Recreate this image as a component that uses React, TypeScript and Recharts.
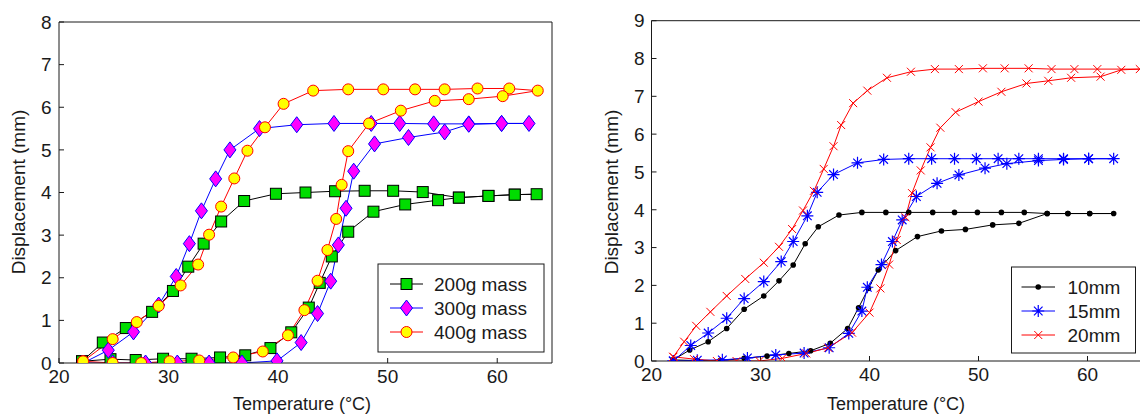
import React from 'react';
import { LineChart, Line, XAxis, YAxis } from 'recharts';

const FONT = "'Liberation Sans', Arial, Helvetica, sans-serif";
const INK = '#1a1a1a';

const tempTicks = [20, 30, 40, 50, 60];
const massTicks = [0, 1, 2, 3, 4, 5, 6, 7, 8];
const lengthTicks = [0, 1, 2, 3, 4, 5, 6, 7, 8, 9];

const massLabels = ['200g mass', '300g mass', '400g mass'];
const lengthLabels = ['10mm', '15mm', '20mm'];

// left panel: displacement vs temperature for three bias masses
// each loop is read as "out" (upper-left branch) and "back" (lower-right branch)
const m200OutT = [22.1, 24.0, 26.1, 28.5, 30.4, 31.8, 33.2, 34.8, 36.9, 39.8, 42.5, 45.2, 47.9, 50.5, 53.2, 56.5, 59.2, 61.6, 63.6];
const m200OutD = [0.04, 0.48, 0.82, 1.2, 1.69, 2.26, 2.8, 3.32, 3.8, 3.97, 4.0, 4.03, 4.04, 4.04, 4.01, 3.88, 3.92, 3.95, 3.96];
const m200BackT = [61.6, 59.2, 56.5, 54.6, 51.6, 48.7, 46.4, 44.9, 43.8, 42.8, 41.2, 39.3, 37.0, 34.7, 32.1, 29.5, 27.0, 24.7, 22.1];
const m200BackD = [3.95, 3.92, 3.88, 3.82, 3.72, 3.55, 3.08, 2.5, 1.88, 1.3, 0.72, 0.35, 0.18, 0.13, 0.1, 0.1, 0.07, 0.09, 0.04];

const m300OutT = [22.2, 24.5, 26.8, 29.1, 30.7, 31.9, 33.0, 34.3, 35.6, 38.3, 41.7, 45.1, 48.5, 51.1, 54.2, 57.4, 60.4, 62.9];
const m300OutD = [0, 0.3, 0.73, 1.36, 2.03, 2.8, 3.57, 4.32, 5.0, 5.5, 5.59, 5.62, 5.62, 5.62, 5.61, 5.61, 5.62, 5.62];
const m300BackT = [60.4, 57.4, 55.2, 51.9, 48.8, 46.9, 46.2, 45.5, 44.8, 43.6, 42.1, 39.9, 36.7, 33.7, 30.8, 27.9, 24.9, 22.2];
const m300BackD = [5.62, 5.6, 5.42, 5.29, 5.14, 4.5, 3.63, 2.77, 1.92, 1.16, 0.48, 0.05, 0, 0, 0, 0, 0, 0];

const m400OutT = [22.2, 24.9, 27.1, 29.1, 31.1, 32.7, 33.7, 34.8, 36.0, 37.2, 38.8, 40.5, 43.2, 46.4, 49.6, 52.5, 55.2, 58.2, 61.1, 63.7];
const m400OutD = [0.04, 0.56, 0.96, 1.34, 1.82, 2.31, 3.01, 3.67, 4.33, 4.98, 5.53, 6.08, 6.39, 6.42, 6.42, 6.42, 6.42, 6.44, 6.44, 6.39];
const m400BackT = [60.5, 57.4, 54.3, 51.2, 48.3, 46.4, 45.8, 45.3, 44.5, 43.6, 42.4, 40.9, 38.6, 35.9, 32.8, 30.1, 27.5, 24.9, 22.2];
const m400BackD = [6.26, 6.19, 6.15, 5.92, 5.62, 4.97, 4.18, 3.38, 2.65, 1.93, 1.24, 0.65, 0.27, 0.13, 0.06, 0.04, 0, 0, 0.04];

// right panel: three wire lengths
const l10OutT = [22.0, 23.5, 25.2, 26.9, 28.5, 30.3, 31.7, 33.0, 34.1, 35.3, 37.2, 39.3, 41.5, 43.6, 45.8, 47.8, 49.9, 52.1, 54.2, 56.3, 58.2, 60.2, 62.4];
const l10OutD = [0.03, 0.29, 0.51, 0.86, 1.37, 1.72, 2.12, 2.54, 3.1, 3.55, 3.86, 3.93, 3.93, 3.93, 3.93, 3.93, 3.93, 3.93, 3.93, 3.9, 3.9, 3.9, 3.9];
const l10BackT = [60.2, 58.2, 56.3, 53.7, 51.3, 48.8, 46.6, 44.4, 42.4, 40.8, 39.9, 39.0, 38.0, 36.4, 34.6, 32.6, 30.6, 28.5, 26.3, 24.2, 22.0];
const l10BackD = [3.9, 3.9, 3.9, 3.64, 3.6, 3.48, 3.44, 3.29, 2.92, 2.41, 1.92, 1.41, 0.86, 0.47, 0.27, 0.2, 0.13, 0.07, 0.01, 0.01, 0.03];

const l15OutT = [22.0, 23.6, 25.2, 26.9, 28.5, 30.3, 31.9, 33.0, 34.3, 35.2, 36.7, 38.9, 41.3, 43.6, 45.7, 47.8, 49.8, 51.8, 53.7, 55.5, 57.8, 60.1, 62.4];
const l15OutD = [0, 0.41, 0.74, 1.13, 1.65, 2.1, 2.63, 3.16, 3.84, 4.46, 4.93, 5.24, 5.33, 5.35, 5.35, 5.35, 5.35, 5.35, 5.35, 5.35, 5.35, 5.35, 5.35];
const l15BackT = [60.1, 57.8, 55.5, 52.6, 50.6, 48.2, 46.2, 44.3, 43.0, 42.1, 41.1, 39.8, 39.3, 38.1, 36.3, 34.0, 31.4, 28.8, 26.5, 24.2, 22.0];
const l15BackD = [5.35, 5.33, 5.3, 5.22, 5.1, 4.92, 4.7, 4.35, 3.73, 3.16, 2.55, 1.95, 1.32, 0.73, 0.35, 0.21, 0.16, 0.08, 0.03, 0.02, 0];

const l20OutT = [22.0, 23.0, 24.1, 25.4, 26.9, 28.6, 30.3, 31.7, 32.9, 33.9, 34.9, 35.8, 36.7, 37.4, 38.5, 39.8, 41.6, 43.8, 46.0, 48.2, 50.4, 52.4, 54.6, 56.7, 58.8, 60.9, 64.8];
const l20OutD = [0.11, 0.51, 0.93, 1.3, 1.72, 2.17, 2.6, 3.02, 3.49, 3.98, 4.5, 5.08, 5.68, 6.24, 6.82, 7.15, 7.49, 7.65, 7.72, 7.72, 7.74, 7.74, 7.74, 7.72, 7.72, 7.72, 7.72];
const l20BackT = [63.1, 61.2, 58.5, 56.4, 54.4, 52.1, 50.0, 47.9, 46.5, 45.6, 44.7, 43.9, 43.3, 42.5, 41.8, 41.0, 40.0, 38.4, 36.2, 34.2, 32.0, 29.9, 27.8, 26.0, 23.9, 22.0];
const l20BackD = [7.7, 7.52, 7.49, 7.41, 7.34, 7.12, 6.86, 6.58, 6.17, 5.65, 5.04, 4.44, 3.8, 3.2, 2.55, 1.92, 1.28, 0.75, 0.35, 0.2, 0.07, 0, 0, 0, 0.05, 0.11];

const loop = (outT: number[], outD: number[], backT: number[], backD: number[]) => [
  ...outT.map((t, i) => ({ t, d: outD[i] })),
  ...backT.map((t, i) => ({ t, d: backD[i] })),
];

const m200 = loop(m200OutT, m200OutD, m200BackT, m200BackD);
const m300 = loop(m300OutT, m300OutD, m300BackT, m300BackD);
const m400 = loop(m400OutT, m400OutD, m400BackT, m400BackD);
const l10 = loop(l10OutT, l10OutD, l10BackT, l10BackD);
const l15 = loop(l15OutT, l15OutD, l15BackT, l15BackD);
const l20 = loop(l20OutT, l20OutD, l20BackT, l20BackD);

// matlab-ish markers
type MarkerFn = (x: number, y: number, k: string) => React.ReactElement;

const square: MarkerFn = (x, y, k) => (
  <rect key={k} x={x - 5.5} y={y - 5.5} width={11} height={11} fill="#00dd00" stroke="#000" strokeWidth={1} />
);
const diamond: MarkerFn = (x, y, k) => (
  <path key={k} d={`M${x},${y - 8}L${x + 6},${y}L${x},${y + 8}L${x - 6},${y}Z`} fill="#ff00ff" stroke="#0000ff" strokeWidth={1} />
);
const ring: MarkerFn = (x, y, k) => (
  <circle key={k} cx={x} cy={y} r={5.5} fill="#ffff00" stroke="#ff0000" strokeWidth={1} />
);
const dot: MarkerFn = (x, y, k) => <circle key={k} cx={x} cy={y} r={2.8} fill="#000" />;
const star: MarkerFn = (x, y, k) => (
  <path
    key={k}
    d={`M${x - 6},${y}H${x + 6}M${x},${y - 6}V${y + 6}M${x - 4.3},${y - 4.3}L${x + 4.3},${y + 4.3}M${x - 4.3},${y + 4.3}L${x + 4.3},${y - 4.3}`}
    stroke="#0000ff"
    strokeWidth={1.2}
    fill="none"
  />
);
const cross: MarkerFn = (x, y, k) => (
  <path key={k} d={`M${x - 4},${y - 4}L${x + 4},${y + 4}M${x - 4},${y + 4}L${x + 4},${y - 4}`} stroke="#ff0000" strokeWidth={1} fill="none" />
);

const dotRenderer = (m: MarkerFn, tag: string) => (p: any) => m(p.cx ?? 0, p.cy ?? 0, `${tag}-${p.index}`);

const axisText = { fill: INK, fontSize: 19, fontFamily: FONT };

function frame(yTicks: number[], yMax: number, yMargin: number) {
  return [
    <XAxis
      key="xb"
      xAxisId={0}
      type="number"
      dataKey="t"
      domain={[20, 65]}
      ticks={tempTicks}
      interval={0}
      allowDataOverflow
      height={1}
      tickSize={-5}
      tickMargin={12}
      tick={axisText}
      axisLine={{ stroke: INK }}
      tickLine={{ stroke: INK }}
    />,
    <XAxis
      key="xt"
      xAxisId="top"
      orientation="top"
      type="number"
      domain={[20, 65]}
      ticks={tempTicks}
      interval={0}
      allowDataOverflow
      height={1}
      tickSize={-5}
      tick={false}
      axisLine={{ stroke: INK }}
      tickLine={{ stroke: INK }}
    />,
    <YAxis
      key="yl"
      yAxisId={0}
      type="number"
      domain={[0, yMax]}
      ticks={yTicks}
      interval={0}
      allowDataOverflow
      width={1}
      tickSize={-5}
      tickMargin={yMargin}
      tick={axisText}
      axisLine={{ stroke: INK }}
      tickLine={{ stroke: INK }}
    />,
    <YAxis
      key="yr"
      yAxisId="right"
      orientation="right"
      type="number"
      domain={[0, yMax]}
      ticks={yTicks}
      interval={0}
      allowDataOverflow
      width={1}
      tickSize={-5}
      tick={false}
      axisLine={{ stroke: INK }}
      tickLine={{ stroke: INK }}
    />,
  ];
}

type LegendRow = { label: string; color: string; marker: MarkerFn };

function legendBox(x: number, y: number, w: number, h: number, rows: LegendRow[], rowY: number[], lineX: [number, number], textX: number) {
  const mid = (lineX[0] + lineX[1]) / 2;
  return (
    <g>
      <rect x={x} y={y} width={w} height={h} fill="#fff" stroke={INK} strokeWidth={1} />
      {rows.map((r, i) => (
        <g key={r.label}>
          <line x1={lineX[0]} x2={lineX[1]} y1={rowY[i]} y2={rowY[i]} stroke={r.color} strokeWidth={1} />
          {r.marker(mid, rowY[i], `lg-${i}`)}
          <text x={textX} y={rowY[i]} dominantBaseline="central" fontFamily={FONT} fontSize={19} fill={INK}>
            {r.label}
          </text>
        </g>
      ))}
    </g>
  );
}

function titles(xCenter: number, yLabelX: number) {
  return (
    <g>
      <text x={xCenter} y={410} textAnchor="middle" fontFamily={FONT} fontSize={18} fill={INK}>
        Temperature (°C)
      </text>
      <text
        transform={`translate(${yLabelX},192) rotate(-90)`}
        textAnchor="middle"
        fontFamily={FONT}
        fontSize={19}
        fill={INK}
      >
        Displacement (mm)
      </text>
    </g>
  );
}

const massRows: LegendRow[] = [
  { label: massLabels[0], color: '#000000', marker: square },
  { label: massLabels[1], color: '#0000ff', marker: diamond },
  { label: massLabels[2], color: '#ff0000', marker: ring },
];
const lengthRows: LegendRow[] = [
  { label: lengthLabels[0], color: '#000000', marker: dot },
  { label: lengthLabels[1], color: '#0000ff', marker: star },
  { label: lengthLabels[2], color: '#ff0000', marker: cross },
];

export default function App() {
  return (
    <div style={{ position: 'fixed', left: 0, top: 0, width: 1140, height: 417, overflow: 'hidden', background: '#fff' }}>
      <div style={{ position: 'absolute', left: 0, top: 0 }}>
        <LineChart width={570} height={417} margin={{ top: 21, right: 17, bottom: 53, left: 58 }}>
          {frame(massTicks, 8, 12.5)}
          <Line data={m200} dataKey="d" type="linear" stroke="#000000" strokeWidth={1} dot={dotRenderer(square, 'a')} activeDot={false} isAnimationActive={false} />
          <Line data={m300} dataKey="d" type="linear" stroke="#0000ff" strokeWidth={1} dot={dotRenderer(diamond, 'b')} activeDot={false} isAnimationActive={false} />
          <Line data={m400} dataKey="d" type="linear" stroke="#ff0000" strokeWidth={1} dot={dotRenderer(ring, 'c')} activeDot={false} isAnimationActive={false} />
          {legendBox(378, 264, 166, 88, massRows, [284, 308, 332], [390, 423], 434)}
          {titles(302, 25)}
        </LineChart>
      </div>
      <div style={{ position: 'absolute', left: 570, top: 0 }}>
        <LineChart width={580} height={417} margin={{ top: 19.7, right: 7, bottom: 55, left: 80.5 }}>
          {frame(lengthTicks, 9, 12)}
          <Line data={l10} dataKey="d" type="linear" stroke="#000000" strokeWidth={1} dot={dotRenderer(dot, 'd')} activeDot={false} isAnimationActive={false} />
          <Line data={l15} dataKey="d" type="linear" stroke="#0000ff" strokeWidth={1} dot={dotRenderer(star, 'e')} activeDot={false} isAnimationActive={false} />
          <Line data={l20} dataKey="d" type="linear" stroke="#ff0000" strokeWidth={1} dot={dotRenderer(cross, 'f')} activeDot={false} isAnimationActive={false} />
          {legendBox(441.5, 267, 124, 86, lengthRows, [287, 311, 335], [451.5, 485], 497.5)}
          {titles(326, 48)}
        </LineChart>
      </div>
    </div>
  );
}
